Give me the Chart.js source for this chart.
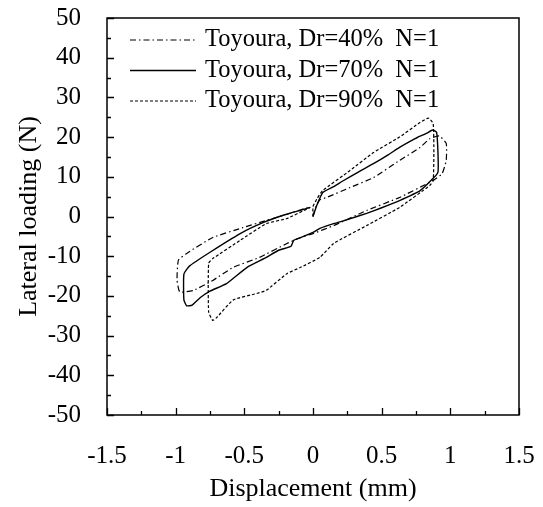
<!DOCTYPE html>
<html>
<head>
<meta charset="utf-8">
<script src="https://cdn.jsdelivr.net/npm/chart.js@4.4.0/dist/chart.umd.min.js"></script>
<style>
  html, body { margin: 0; padding: 0; background: #fff; }
  #wrap { width: 543px; height: 507px; }
</style>
</head>
<body>
<div id="wrap"><canvas id="loopChart" width="543" height="507"></canvas></div>
<script>
// hysteresis loops, [displacement mm, lateral load N]
var dr40 = [
  [0, 0], [0.02, 2.5], [0.05, 4.2], [0.1, 4.8], [0.27, 7.3], [0.44, 9.8], [0.63, 14.1],
  [0.78, 17.4], [0.85, 19.6], [0.92, 20.3], [0.97, 18.4], [0.97, 14.1], [0.94, 10.8],
  [0.87, 9], [0.63, 4.8], [0.39, 1.5], [0.15, -2.3], [0, -4.3], [-0.09, -5.3],
  [-0.19, -6.8], [-0.39, -10.3], [-0.58, -12.8], [-0.73, -16.1], [-0.87, -18.6],
  [-0.97, -19], [-0.99, -16], [-0.98, -11], [-0.92, -9.3], [-0.73, -5.3],
  [-0.51, -2.8], [-0.34, -1], [-0.15, 1], [-0.04, 2.3]
];
var dr70 = [
  [0, 0], [0.03, 3], [0.07, 6], [0.15, 7.5], [0.22, 9], [0.33, 11.2], [0.44, 13.3],
  [0.55, 15.6], [0.63, 17.4], [0.7, 18.8], [0.76, 19.9], [0.83, 21], [0.87, 21.8],
  [0.9, 21.2], [0.91, 16], [0.91, 11.2], [0.88, 9.8], [0.78, 6.5], [0.63, 4],
  [0.5, 2.2], [0.39, 0.8], [0.25, -0.8], [0.15, -1.8], [0.05, -3], [0, -4],
  [-0.09, -5.3], [-0.14, -6], [-0.16, -7.5], [-0.25, -8.5], [-0.34, -10.3],
  [-0.48, -12.8], [-0.63, -16.9], [-0.75, -18.8], [-0.82, -20.4], [-0.88, -22.3],
  [-0.92, -22.5], [-0.94, -21], [-0.94, -14.5], [-0.9, -12.5], [-0.75, -9],
  [-0.53, -4.3], [-0.36, -1.5], [-0.2, 0.5], [-0.02, 2.3]
];
var dr90 = [
  [0, 0], [0, 2.5], [0.03, 4.5], [0.07, 6.5], [0.27, 11.6], [0.44, 16.1], [0.63, 20],
  [0.78, 23.7], [0.84, 24.8], [0.875, 23.4], [0.88, 16], [0.875, 9], [0.85, 7.8],
  [0.63, 2.3], [0.39, -2.3], [0.15, -6.8], [0.05, -10.3], [-0.09, -12.8],
  [-0.19, -14.4], [-0.34, -18.6], [-0.41, -19.4], [-0.58, -21], [-0.7, -25.4],
  [-0.73, -26.2], [-0.76, -24], [-0.76, -11.8], [-0.73, -10.6], [-0.53, -6],
  [-0.34, -1.8], [-0.19, -0.5], [-0.02, 2.3]
];

var seriesNames = ["Toyoura, Dr=40%  N=1", "Toyoura, Dr=70%  N=1", "Toyoura, Dr=90%  N=1"];
var seriesDash = [[6, 3, 1.5, 3], [], [3, 2]];
var xTicks = [-1.5, -1, -0.5, 0, 0.5, 1, 1.5];
var yTicks = [-50, -40, -30, -20, -10, 0, 10, 20, 30, 40, 50];

var serif = "'Liberation Serif', 'Times New Roman', serif";

function toPoints(arr) {
  return arr.map(function (p) { return { x: p[0], y: p[1] }; });
}

// scales get a fixed size and no label overhang, so layout.padding alone places the plot
function fixScale(size) {
  return function (s) {
    if (s.isHorizontal()) s.height = size; else s.width = size;
    s.paddingTop = s.paddingBottom = s.paddingLeft = s.paddingRight = 0;
  };
}

// inward major/minor ticks plus the closed frame around the plot
var frameTicks = {
  id: 'frameTicks',
  afterDatasetsDraw: function (chart) {
    var ctx = chart.ctx, a = chart.chartArea;
    var xs = chart.scales.x, ys = chart.scales.y;
    ctx.save();
    ctx.strokeStyle = '#000';
    ctx.lineWidth = 1.3;
    ctx.beginPath();
    function xt(v, len) {
      var px = Math.round(xs.getPixelForValue(v)) + 0.5;
      ctx.moveTo(px, a.bottom); ctx.lineTo(px, a.bottom - len);
    }
    function yt(v, len) {
      var py = Math.round(ys.getPixelForValue(v)) + 0.5;
      ctx.moveTo(a.left, py); ctx.lineTo(a.left + len, py);
    }
    xTicks.forEach(function (v, i) {
      xt(v, 7);
      if (i < xTicks.length - 1) xt((v + xTicks[i + 1]) / 2, 4);
    });
    yTicks.forEach(function (v, i) {
      yt(v, 7);
      if (i < yTicks.length - 1) yt((v + yTicks[i + 1]) / 2, 4);
    });
    ctx.stroke();
    ctx.lineWidth = 1.5;
    ctx.strokeRect(a.left, a.top, a.right - a.left, a.bottom - a.top);
    ctx.restore();
  }
};

// legend drawn inside the plot, top-left
var innerLegend = {
  id: 'innerLegend',
  afterDraw: function (chart) {
    var ctx = chart.ctx, a = chart.chartArea;
    ctx.save();
    ctx.font = "24.5px " + serif;
    ctx.fillStyle = '#000';
    ctx.textBaseline = 'middle';
    chart.data.datasets.forEach(function (ds, i) {
      var y = a.top + 22 + i * 30.5;
      ctx.beginPath();
      ctx.setLineDash(ds.borderDash || []);
      ctx.lineWidth = ds.borderWidth;
      ctx.strokeStyle = '#000';
      ctx.moveTo(a.left + 23, y);
      ctx.lineTo(a.left + 89, y);
      ctx.stroke();
      ctx.setLineDash([]);
      ctx.fillText(ds.label, a.left + 98, y);
    });
    ctx.restore();
  }
};

var datasets = [dr40, dr70, dr90].map(function (d, i) {
  return {
    label: seriesNames[i],
    data: toPoints(d),
    showLine: true,
    borderColor: '#000',
    borderWidth: i === 1 ? 1.4 : 1.2,
    borderDash: seriesDash[i],
    pointRadius: 0,
    tension: 0.15,
    fill: false
  };
});

var ctx = document.getElementById('loopChart').getContext('2d');
var loopChart = new Chart(ctx, {
  type: 'scatter',
  data: { datasets: datasets },
  options: {
    responsive: false,
    animation: false,
    layout: { padding: { top: 18, right: 24, left: 0, bottom: 0 } },
    plugins: { legend: { display: false }, tooltip: { enabled: false } },
    scales: {
      x: {
        min: -1.5, max: 1.5,
        afterBuildTicks: function (s) { s.ticks = xTicks.map(function (v) { return { value: v }; }); },
        afterFit: fixScale(92),
        grid: { display: false, drawTicks: false },
        border: { display: false },
        ticks: {
          color: '#000', padding: 26, maxRotation: 0,
          font: { family: serif, size: 25 },
          callback: function (v) { return String(v); }
        },
        title: { display: true, text: 'Displacement (mm)', color: '#000', padding: { top: 8, bottom: 2 }, font: { family: serif, size: 26 } }
      },
      y: {
        min: -50, max: 50,
        afterBuildTicks: function (s) { s.ticks = yTicks.map(function (v) { return { value: v }; }); },
        afterFit: fixScale(107),
        grid: { display: false, drawTicks: false },
        border: { display: false },
        ticks: { color: '#000', padding: 26, font: { family: serif, size: 25 } },
        title: { display: true, text: 'Lateral loading (N)', color: '#000', padding: { top: 14, bottom: 4 }, font: { family: serif, size: 26 } }
      }
    }
  },
  plugins: [frameTicks, innerLegend]
});
</script>
</body>
</html>
